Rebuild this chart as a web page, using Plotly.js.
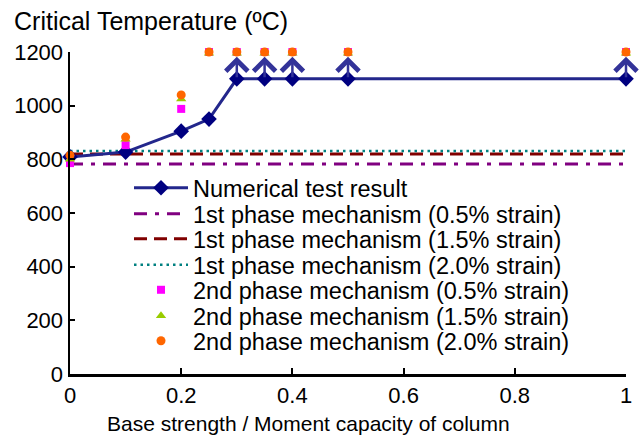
<!DOCTYPE html>
<html>
<head>
<meta charset="utf-8">
<script src="https://cdn.plot.ly/plotly-3.0.1.min.js"></script>
<style>html,body{margin:0;padding:0;background:#fff;}#chart{width:639px;height:438px;}</style>
</head>
<body>
<div id="chart"></div>
<script>
// ---- data ----
const ratio = [0, 0.1, 0.2, 0.25, 0.3, 0.35, 0.4, 0.5, 1.0];
const numerical = [809, 827, 905, 950, 1100, 1100, 1100, 1100, 1100];
const phase1X = [0, 1];
const phase1_05 = [783, 783];
const phase1_15 = [820, 820];
const phase1_20 = [831, 831];
const phase2_05 = [786, 853, 988, 1200, 1200, 1200, 1200, 1200, 1200];
const phase2_15 = [800, 875, 1025, 1195, 1195, 1195, 1195, 1195, 1195];
const phase2_20 = [815, 883, 1040, 1200, 1200, 1200, 1200, 1200, 1200];
// lower-bound arrows (result exceeds value): from value up to limit
const arrowX = [0.3, 0.35, 0.4, 0.5, 1.0];
const arrowFrom = [1100, 1100, 1100, 1100, 1100];
const arrowTo = [1182, 1182, 1182, 1182, 1182];
const legendNames = [
  'Numerical test result',
  '1st phase mechanism (0.5% strain)',
  '1st phase mechanism (1.5% strain)',
  '1st phase mechanism (2.0% strain)',
  '2nd phase mechanism (0.5% strain)',
  '2nd phase mechanism (1.5% strain)',
  '2nd phase mechanism (2.0% strain)'
];
const xTitle = 'Base strength / Moment capacity of column';
const yTitle = 'Critical Temperature (ºC)';

const FONT = 'Liberation Sans, Arial, Helvetica, sans-serif';

const traces = [
  {x: phase1X, y: phase1_05, mode: 'lines', name: legendNames[1], legend: 'legend2',
   line: {color: '#800080', width: 3, dash: '13px,8px,4px,8px'}},
  {x: phase1X, y: phase1_15, mode: 'lines', name: legendNames[2], legend: 'legend3',
   line: {color: '#800000', width: 3, dash: '13px,7px'}},
  {x: phase1X, y: phase1_20, mode: 'lines', name: legendNames[3], legend: 'legend4',
   line: {color: '#008080', width: 2.5, dash: '2.5px,4px'}},
  {x: ratio, y: numerical, mode: 'lines+markers', name: legendNames[0], legend: 'legend',
   line: {color: '#23278c', width: 3}, marker: {symbol: 'diamond', size: 12, color: '#000080'}, cliponaxis: false},
  {x: ratio, y: phase2_05, mode: 'markers', name: legendNames[4], legend: 'legend5',
   marker: {symbol: 'square', size: 8, color: '#ff00ff'}, cliponaxis: false},
  {x: ratio, y: phase2_15, mode: 'markers', name: legendNames[5], legend: 'legend6',
   marker: {symbol: 'triangle-up', size: 9, color: '#99cc00'}, cliponaxis: false},
  {x: ratio, y: phase2_20, mode: 'markers', name: legendNames[6], legend: 'legend7',
   marker: {symbol: 'circle', size: 9, color: '#ff6600'}, cliponaxis: false}
];

const annotations = arrowX.map((xv, i) => ({
  x: xv, y: arrowTo[i], ax: xv, ay: arrowFrom[i], xref: 'x', yref: 'y', axref: 'x', ayref: 'y',
  text: '', showarrow: true, arrowhead: 4, arrowsize: 1.7, arrowwidth: 2.5, arrowcolor: '#333399'
}));
annotations.push({
  text: xTitle, xref: 'paper', yref: 'paper', x: (308 - 70) / 556, y: (374 - 423) / 322,
  xanchor: 'center', yanchor: 'middle', showarrow: false,
  font: {family: FONT, size: 21, color: '#000'}
});

// legend rows (pixel centres converted to paper fractions of the plot area)
const plotTop = 52, plotBottom = 374;
const rowPx = [188, 214, 239, 265, 290, 316, 341];
const legendKeys = ['legend', 'legend2', 'legend3', 'legend4', 'legend5', 'legend6', 'legend7'];

const layout = {
  width: 639, height: 438,
  margin: {l: 70, r: 13, t: 52, b: 64},
  paper_bgcolor: '#ffffff', plot_bgcolor: '#ffffff',
  font: {family: FONT, color: '#000000', size: 22},
  showlegend: true,
  title: {text: yTitle, x: 14 / 639, xanchor: 'left', y: 1 - 21 / 438, yanchor: 'middle',
          font: {family: FONT, size: 25, color: '#000'}},
  xaxis: {
    range: [0, 1], tickvals: [0, 0.2, 0.4, 0.6, 0.8, 1], ticktext: ['0', '0.2', '0.4', '0.6', '0.8', '1'],
    showgrid: false, zeroline: false, showline: true, linecolor: '#000', linewidth: 2.5,
    ticks: 'inside', ticklen: 6, tickwidth: 2, tickcolor: '#000',
    tickfont: {family: FONT, size: 22, color: '#000'}
  },
  yaxis: {
    range: [0, 1200], tickvals: [0, 200, 400, 600, 800, 1000, 1200],
    showgrid: false, zeroline: false, showline: true, linecolor: '#000', linewidth: 2.5,
    ticks: 'inside', ticklen: 5, tickwidth: 2, tickcolor: '#000',
    tickfont: {family: FONT, size: 22, color: '#000'}
  },
  annotations: annotations
};

legendKeys.forEach((k, i) => {
  layout[k] = {
    x: (129 - 70) / (626 - 70), xanchor: 'left',
    y: (plotBottom - rowPx[i]) / (plotBottom - plotTop), yanchor: 'middle',
    bgcolor: 'rgba(0,0,0,0)', borderwidth: 0, itemwidth: 54,
    font: {family: FONT, size: 23.5, color: '#000'}
  };
});

Plotly.newPlot('chart', traces, layout, {displayModeBar: false, staticPlot: true});
</script>
</body>
</html>
